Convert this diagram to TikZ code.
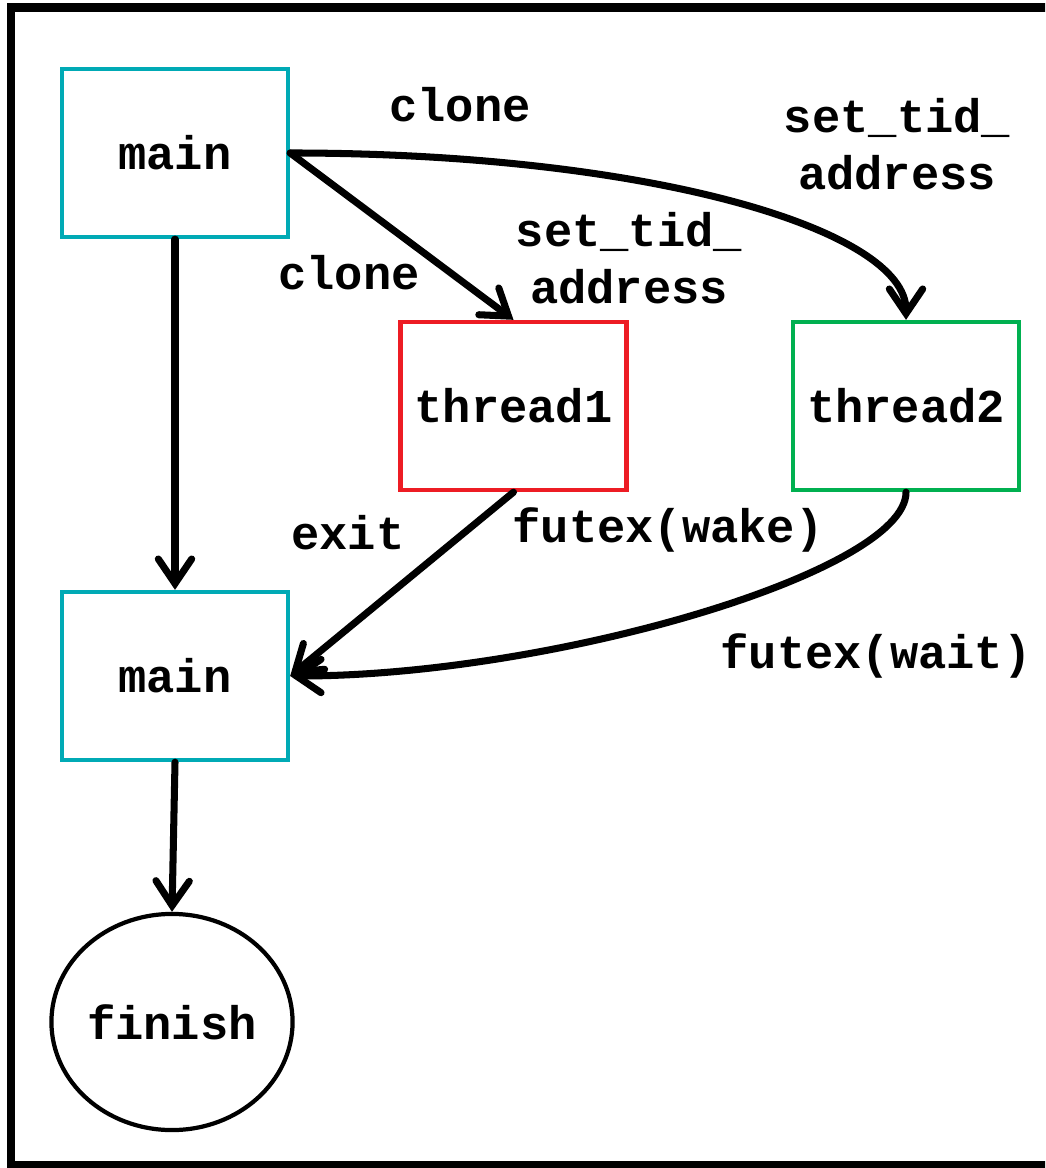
\documentclass[tikz,border=0pt]{standalone}
\usepackage{fontspec}
\setmonofont{Liberation Mono}
\usetikzlibrary{arrows.meta, shapes.geometric}

\definecolor{mainteal}{RGB}{0,170,181}
\definecolor{threadred}{RGB}{237,28,36}
\definecolor{threadgreen}{RGB}{0,176,80}

\tikzset{
  codefont/.style={font=\ttfamily\bfseries\fontsize{13.4}{16.2}\selectfont},
  procbox/.style={draw, line width=1.2pt, minimum width=2.26cm, minimum height=1.68cm, codefont},
  calllabel/.style={align=center, inner sep=0pt, codefont},
  flow/.style={line width=2pt, line cap=round, -{Straight Barb[length=7pt, width=9.5pt, line cap=round]}}
}

\begin{document}
\begin{tikzpicture}[x=0.01cm, y=-0.01cm]
			% Page and outer frame
			\clip (0,0) rectangle (1045,1168);
			\fill[white] (0,0) rectangle (1045,1168);
			\draw[line width=2.3pt] (11,7.5) rectangle (1050,1165);
			
			% Processes
			\node[procbox, draw=mainteal] (main1) at (175,153) {main};
			\node[procbox, draw=threadred] (thread1) at (513.5,406) {thread1};
			\node[procbox, draw=threadgreen] (thread2) at (906,406) {thread2};
			\node[procbox, draw=mainteal] (main2) at (175,676) {main};
			\node[ellipse, draw, line width=1.2pt, inner sep=0pt, minimum width=2.41cm, minimum height=2.16cm, codefont] (finish) at (172,1022) {finish};
			
			% Create the threads
			\draw[flow] (main1.east) -- (thread1.north);
			\draw[flow] (main1.east) .. controls +(360,0) and +(0,-90) .. (thread2.north);
			\draw[flow] (main1.south) -- (main2.north);
			
			% Join back to main
			\draw[flow] (thread1.south) -- (main2.east);
			\draw[flow] (thread2.south) .. controls +(0,80) and +(260,0) .. (main2.east);
			\draw[flow] (main2.south) -- (finish.north);
			
			% Label the system calls
			\node[calllabel] (clonetop) at (460,105) {clone};
			\node[calllabel] (clonelow) at (349,273) {clone};
			\node[calllabel] (tidtop) at (897,144) {set\_tid\_\\address};
			\node[calllabel] (tidlow) at (629,258) {set\_tid\_\\address};
			\node[calllabel] (exitlbl) at (348,533) {exit};
			\node[calllabel] (wakelbl) at (668,530) {futex(wake)};
			\node[calllabel] (waitlbl) at (876,656) {futex(wait)};
		\end{tikzpicture}
\end{document}
